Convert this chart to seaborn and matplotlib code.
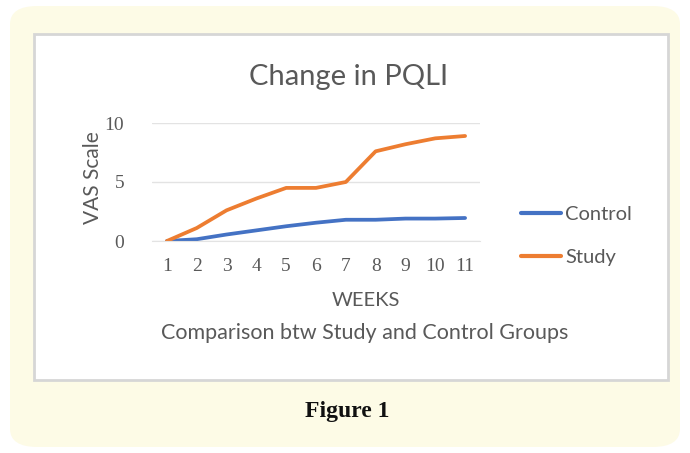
import pandas as pd
import matplotlib.pyplot as plt
import seaborn as sns
from matplotlib.patches import FancyBboxPatch, Rectangle

# data
weeks = [1, 2, 3, 4, 5, 6, 7, 8, 9, 10, 11]
control = [0, 0.15, 0.55, 0.9, 1.25, 1.55, 1.8, 1.8, 1.9, 1.9, 1.95]
study = [0, 1.1, 2.6, 3.6, 4.5, 4.5, 5.0, 7.6, 8.2, 8.7, 8.9]
groups = ["Control", "Study"]
colors = ["#4472C4", "#ED7D31"]

df = pd.DataFrame({
    "Week": weeks * 2,
    "VAS": control + study,
    "Group": [groups[0]] * len(weeks) + [groups[1]] * len(weeks),
})

sns.set_style("white")
plt.rcParams["font.family"] = ["Lato", "DejaVu Sans"]

W, H = 690, 453
fig = plt.figure(figsize=(6.9, 4.53), dpi=100)

# cream rounded card and white inner picture
card = FancyBboxPatch((10 / W, 6 / H), 670 / W, 441 / H,
                      boxstyle="round,pad=0,rounding_size=0.04",
                      transform=fig.transFigure, facecolor="#fdfbe6",
                      edgecolor="none", zorder=-2)
fig.patches.append(card)
inner = Rectangle((34 / W, (H - 380) / H), 634 / W, 346 / H,
                  transform=fig.transFigure, facecolor="white",
                  edgecolor="#d6d6d6", linewidth=2, zorder=-1)
fig.patches.append(inner)

ax = fig.add_axes([152 / W, (H - 241) / H, 328 / W, 118 / H])
ax.set_zorder(3)
ax.patch.set_alpha(0)
sns.lineplot(data=df, x="Week", y="VAS", hue="Group", palette=colors,
             linewidth=2.7, ax=ax, legend=False)

ax.set_xlim(0.5, 11.5)
ax.set_ylim(0, 10)
ax.set_xticks(weeks)
ax.set_yticks([0, 5, 10])
ax.grid(axis="y", color="#e3e3e3", linewidth=1)
ax.set_axisbelow(True)
for s in ["top", "right", "left"]:
    ax.spines[s].set_visible(False)
ax.spines["bottom"].set_color("#e3e3e3")
ax.tick_params(length=0, labelsize=14, labelcolor="#595959")
for lbl in ax.get_xticklabels() + ax.get_yticklabels():
    lbl.set_fontfamily("Liberation Serif")
ax.tick_params(axis="x", pad=12)
ax.tick_params(axis="y", pad=20)
ax.set_xlabel("")
ax.set_ylabel("")

fig.text(349 / W, 1 - 77 / H, "Change in PQLI", ha="center", va="center",
         fontsize=21, color="#595959")
fig.text(93 / W, 1 - 178 / H, "VAS Scale", ha="center", va="center",
         rotation=90, fontsize=15, color="#595959")
fig.text(366 / W, 1 - 301 / H, "WEEKS", ha="center", va="center",
         fontsize=14.5, color="#595959")
fig.text(365 / W, 1 - 333 / H, "Comparison btw Study and Control Groups",
         ha="center", va="center", fontsize=15.5, color="#595959")

# legend to the right of the plot
handles = [plt.Line2D([], [], color=c, linewidth=3) for c in colors]
fig.legend(handles, groups, loc="center left",
           bbox_to_anchor=(503 / W, 1 - 236 / H), frameon=False,
           fontsize=14.5, labelcolor="#595959", handlelength=2.0,
           handletextpad=0.2, labelspacing=1.25)

fig.text(347 / W, 1 - 412 / H, "Figure 1", ha="center", va="center",
         fontsize=17, fontweight="bold", family="Liberation Serif",
         color="#111111")

fig.savefig("out.png", dpi=100)
